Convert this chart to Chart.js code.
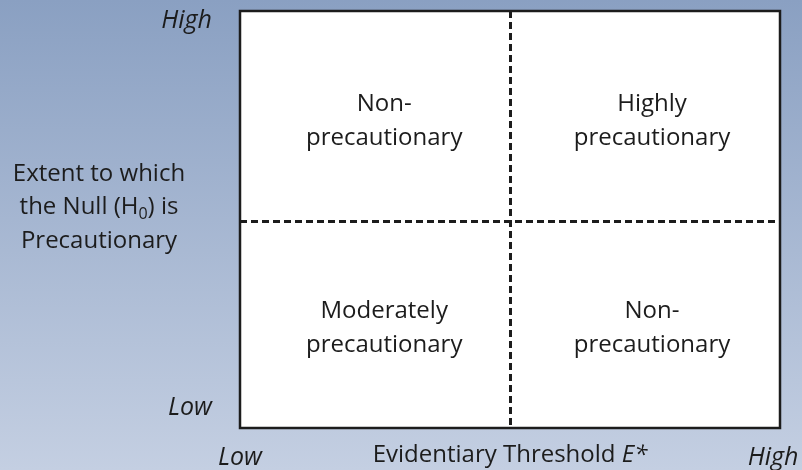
<!DOCTYPE html>
<html lang="en">
<head>
<meta charset="UTF-8">
<title>Precaution matrix</title>
<script src="https://cdn.jsdelivr.net/npm/chart.js"></script>
<style>
  html, body { margin: 0; padding: 0; }
  .chart-box { width: 802px; height: 470px; }
</style>
</head>
<body>
<div class="chart-box"><canvas id="matrixChart" width="802" height="470"></canvas></div>
<script>
  // both axes run 0..100; dashed dividers split the box into quadrants
  const dividerX = 50;
  const dividerY = 49.6;
  const xTickValues = [0, dividerX, 98.7];
  const xTickLabels = ['Low', '', 'High'];
  const yTickValues = [4.8, dividerY, 97.6];
  const yTickLabels = ['Low', '', 'High'];

  // quadrant captions (centre of each caption block)
  const quadrantX = [26.7, 76.3, 26.7, 76.3];
  const quadrantY = [73.5, 73.5, 24, 24];
  const quadrantLines = [
    ['Non-', 'precautionary'],
    ['Highly', 'precautionary'],
    ['Moderately', 'precautionary'],
    ['Non-', 'precautionary']
  ];

  // axis titles; _0 marks a subscript, *...* marks italic
  const yTitleLines = ['Extent to which', 'the Null (H_0) is', 'Precautionary'];
  const xTitle = 'Evidentiary Threshold *E**';

  const FONT = '"Open Sans", sans-serif';
  const INK = '#1c1c1c';
  const SIZE = 24;

  function splitRich(str) {
    const parts = [];
    let i = 0, buf = '', italic = false;
    while (i < str.length) {
      const ch = str[i];
      if (ch === '_') {
        if (buf) parts.push({ t: buf, italic });
        buf = '';
        parts.push({ t: str[i + 1], sub: true, italic });
        i += 2;
        continue;
      }
      if (ch === '*' && !italic && (i === 0 || str[i - 1] === ' ')) {
        if (buf) parts.push({ t: buf, italic });
        buf = '';
        italic = true;
        i++;
        continue;
      }
      if (ch === '*' && italic && i === str.length - 1) {
        i++;
        continue;
      }
      buf += ch;
      i++;
    }
    if (buf) parts.push({ t: buf, italic });
    return parts;
  }

  function drawRich(ctx, str, cx, cy, size) {
    const parts = splitRich(str);
    const fontFor = p => `${p.italic ? 'italic ' : ''}${p.sub ? Math.round(size * 0.65) : size}px ${FONT}`;
    let total = 0;
    parts.forEach(p => { ctx.font = fontFor(p); p.w = ctx.measureText(p.t).width; total += p.w; });
    let x = cx - total / 2;
    ctx.textAlign = 'left';
    parts.forEach(p => {
      ctx.font = fontFor(p);
      ctx.fillText(p.t, x, p.sub ? cy + size * 0.3 : cy);
      x += p.w;
    });
  }

  const matrixPlugin = {
    id: 'matrix',
    beforeDraw(chart) {
      const { ctx, width, height, chartArea: a } = chart;
      const g = ctx.createLinearGradient(0, 0, 0, height);
      g.addColorStop(0, '#8aa0c2');
      g.addColorStop(1, '#c4cfe2');
      ctx.save();
      ctx.fillStyle = g;
      ctx.fillRect(0, 0, width, height);
      ctx.fillStyle = '#ffffff';
      ctx.fillRect(a.left, a.top, a.right - a.left, a.bottom - a.top);
      ctx.restore();
    },
    afterDraw(chart) {
      const { ctx, chartArea: a } = chart;
      const xs = chart.scales.x, ys = chart.scales.y;
      ctx.save();
      // frame
      ctx.strokeStyle = INK;
      ctx.lineWidth = 2.5;
      ctx.strokeRect(a.left, a.top, a.right - a.left, a.bottom - a.top);

      ctx.fillStyle = INK;
      ctx.textBaseline = 'middle';
      ctx.textAlign = 'center';
      ctx.font = `${SIZE}px ${FONT}`;
      quadrantLines.forEach((lines, i) => {
        const cx = xs.getPixelForValue(quadrantX[i]);
        const cy = ys.getPixelForValue(quadrantY[i]);
        lines.forEach((t, j) => ctx.fillText(t, cx, cy + (j - (lines.length - 1) / 2) * 34));
      });

      // y title, horizontal, left of the box
      const ty = ys.getPixelForValue(dividerY) - 14;
      yTitleLines.forEach((t, j) => drawRich(ctx, t, a.left - 141, ty + (j - 1) * 33.5, SIZE));

      // x title on the same line as the x tick labels
      drawRich(ctx, xTitle, xs.getPixelForValue(dividerX), a.bottom + 27, SIZE);
      ctx.restore();
    }
  };

  const gridColor = divider => c => (c.tick && c.tick.value === divider ? INK : 'rgba(0,0,0,0)');
  const noPadding = s => { s.paddingTop = 0; s.paddingBottom = 0; s.paddingLeft = 0; s.paddingRight = 0; };

  new Chart(document.getElementById('matrixChart'), {
    type: 'scatter',
    data: { datasets: [] },
    options: {
      responsive: false,
      animation: false,
      layout: { padding: { top: 11, right: 22, bottom: 0, left: 0 } },
      plugins: { legend: { display: false }, tooltip: { enabled: false } },
      scales: {
        x: {
          type: 'linear', min: 0, max: 100,
          afterBuildTicks: s => { s.ticks = xTickValues.map(v => ({ value: v })); },
          afterFit: s => { s.height = 42; noPadding(s); },
          ticks: {
            autoSkip: false, maxRotation: 0, padding: 15, color: INK,
            font: { family: FONT, size: 25, style: 'italic' },
            callback: (v, i) => xTickLabels[i]
          },
          grid: { drawTicks: false, lineWidth: 3, color: gridColor(dividerX) },
          border: { display: false, dash: [7, 4] }
        },
        y: {
          type: 'linear', min: 0, max: 100,
          afterBuildTicks: s => { s.ticks = yTickValues.map(v => ({ value: v })); },
          afterFit: s => { s.width = 240; noPadding(s); },
          ticks: {
            autoSkip: false, padding: 28, color: INK,
            font: { family: FONT, size: 25, style: 'italic' },
            callback: (v, i) => yTickLabels[i]
          },
          grid: { drawTicks: false, lineWidth: 3, color: gridColor(dividerY) },
          border: { display: false, dash: [7, 4] }
        }
      }
    },
    plugins: [matrixPlugin]
  });
</script>
</body>
</html>
